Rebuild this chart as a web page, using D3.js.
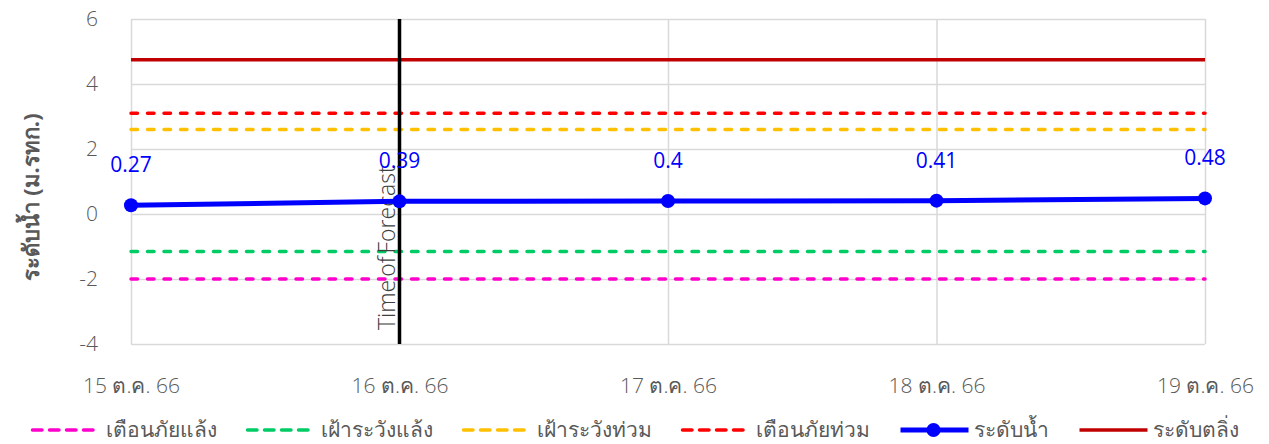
<!DOCTYPE html>
<html>
<head>
<meta charset="utf-8">
<script src="https://cdn.jsdelivr.net/npm/d3@7"></script>
<style>
    body { margin: 0; background: #fff; }
    text { font-family: "Open Sans", "Noto Sans", sans-serif; }
</style>
</head>
<body>
<div id="chart"></div>
<script>
// data
const dates = ["15 ต.ค. 66", "16 ต.ค. 66", "17 ต.ค. 66", "18 ต.ค. 66", "19 ต.ค. 66"];
const waterLevel = [0.27, 0.39, 0.4, 0.41, 0.48];
const yTicks = [-4, -2, 0, 2, 4, 6];
const forecastDate = "16 ต.ค. 66";

const thresholdNames = ["เตือนภัยแล้ง", "เฝ้าระวังแล้ง", "เฝ้าระวังท่วม", "เตือนภัยท่วม", "ระดับตลิ่ง"];
const thresholdValues = [-2.0, -1.15, 2.6, 3.1, 4.75];
const thresholdColors = ["#FF00CC", "#00CC66", "#FFC000", "#FF0000", "#C00000"];
const thresholdDashed = [true, true, true, true, false];

const legendNames = ["เตือนภัยแล้ง", "เฝ้าระวังแล้ง", "เฝ้าระวังท่วม", "เตือนภัยท่วม", "ระดับน้ำ", "ระดับตลิ่ง"];

let width = 1269, height = 444;
let margin = {top: 19, right: 64, bottom: 100, left: 131};
let innerW = width - margin.left - margin.right;
let innerH = height - margin.top - margin.bottom;

let svg = d3.select("#chart").append("svg")
    .attr("width", width)
    .attr("height", height);

let g = svg.append("g")
    .attr("transform", "translate(" + margin.left + "," + margin.top + ")");

// scales
let x = d3.scalePoint()
    .domain(dates)
    .range([0, innerW]);

let y = d3.scaleLinear()
    .domain([-4, 6])
    .range([innerH, 0]);

// gridlines
g.append("g")
    .attr("class", "grid")
    .call(d3.axisLeft(y).tickValues(yTicks).tickSize(-innerW).tickFormat(""))
    .call(s => s.select(".domain").remove())
    .selectAll("line")
    .attr("stroke", "#D9D9D9")
    .attr("stroke-width", 1.5);

g.append("g")
    .attr("class", "grid")
    .attr("transform", "translate(0," + innerH + ")")
    .call(d3.axisBottom(x).tickSize(-innerH).tickFormat(""))
    .call(s => s.select(".domain").remove())
    .selectAll("line")
    .attr("stroke", "#D9D9D9")
    .attr("stroke-width", 1.5);

// axes labels
let yAxis = g.append("g")
    .call(d3.axisLeft(y).tickValues(yTicks).tickSize(0).tickPadding(33).tickFormat(d => String(d)));
yAxis.select(".domain").remove();
yAxis.selectAll("text")
    .attr("fill", "#595959")
    .attr("font-weight", 300)
    .style("font-size", "21px");

let xAxis = g.append("g")
    .attr("transform", "translate(0," + innerH + ")")
    .call(d3.axisBottom(x).tickSize(0).tickPadding(34));
xAxis.select(".domain").remove();
xAxis.selectAll("text")
    .attr("fill", "#595959")
    .attr("font-weight", 300)
    .style("font-size", "21px");

// y axis title
svg.append("text")
    .attr("transform", "translate(39,197) rotate(-90)")
    .attr("text-anchor", "middle")
    .attr("fill", "#595959")
    .attr("font-weight", "bold")
    .style("font-size", "22px")
    .text("ระดับน้ำ (ม.รทก.)");

// threshold lines
thresholdValues.forEach((v, i) => {
    g.append("line")
        .attr("x1", 0)
        .attr("x2", innerW)
        .attr("y1", y(v))
        .attr("y2", y(v))
        .attr("stroke", thresholdColors[i])
        .attr("stroke-width", 3.5)
        .attr("stroke-linecap", thresholdDashed[i] ? "round" : "butt")
        .attr("stroke-dasharray", thresholdDashed[i] ? "6.5,10" : null);
});

// time of forecast
let fx = x(forecastDate);
g.append("line")
    .attr("x1", fx).attr("x2", fx)
    .attr("y1", 0).attr("y2", innerH)
    .attr("stroke", "#000")
    .attr("stroke-width", 3.5);

g.append("text")
    .attr("transform", "translate(" + (fx - 5) + "," + (innerH - 14) + ") rotate(-90)")
    .attr("fill", "#404040")
    .attr("font-weight", 300)
    .style("font-size", "23px")
    .style("word-spacing", "-3px")
    .text("Time of Forecast");

// water level line
let line = d3.line()
    .x((d, i) => x(dates[i]))
    .y(d => y(d));

g.append("path")
    .datum(waterLevel)
    .attr("fill", "none")
    .attr("stroke", "#0000FF")
    .attr("stroke-width", 5)
    .attr("d", line);

g.selectAll(".dot")
    .data(waterLevel)
    .enter().append("circle")
    .attr("class", "dot")
    .attr("cx", (d, i) => x(dates[i]))
    .attr("cy", d => y(d))
    .attr("r", 7)
    .attr("fill", "#0000FF");

g.selectAll(".lbl")
    .data(waterLevel)
    .enter().append("text")
    .attr("class", "lbl")
    .attr("x", (d, i) => x(dates[i]))
    .attr("y", d => y(d) - 33)
    .attr("text-anchor", "middle")
    .attr("fill", "#0000FF")
    .style("font-size", "21px")
    .text(d => d);

// legend
let legendColors = thresholdColors.slice(0, 4).concat(["#0000FF", "#C00000"]);
let legendDashed = [true, true, true, true, false, false];
let legend = svg.append("g");
let lx = 0;
legendNames.forEach((name, i) => {
    let item = legend.append("g").attr("transform", "translate(" + lx + ",0)");
    item.append("line")
        .attr("x1", 2).attr("x2", 70)
        .attr("y1", 0).attr("y2", 0)
        .attr("stroke", legendColors[i])
        .attr("stroke-width", i == 4 ? 5 : 3.5)
        .attr("stroke-linecap", legendDashed[i] ? "round" : "butt")
        .attr("stroke-dasharray", legendDashed[i] ? "9.5,7.5" : null);
    if (i == 4) {
        item.append("circle").attr("cx", 35).attr("cy", 0).attr("r", 7).attr("fill", "#0000FF");
    }
    let t = item.append("text")
        .attr("x", 75)
        .attr("y", 7)
        .attr("fill", "#595959")
        .attr("font-weight", 300)
        .style("font-size", "21px")
        .text(name);
    lx += 75 + t.node().getComputedTextLength() + 29;
});
lx -= 29;
legend.attr("transform", "translate(" + ((width - lx) / 2) + ",430)");
</script>
</body>
</html>
